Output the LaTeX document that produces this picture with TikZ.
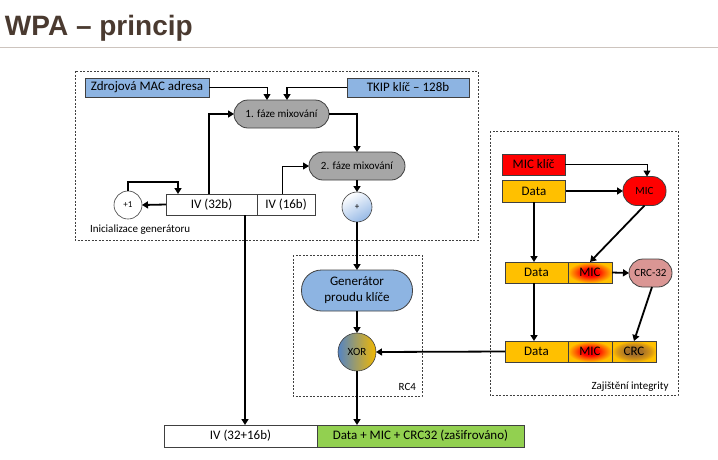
\documentclass[tikz,border=0pt]{standalone}
\usepackage{fontspec}
\setmainfont{Carlito}
\newfontfamily\titlefont{Liberation Sans}
\usetikzlibrary{arrows.meta,calc}
\definecolor{titlecol}{RGB}{74,58,48}
\definecolor{rulecol}{RGB}{205,196,190}
\definecolor{boxblue}{RGB}{141,180,226}
\definecolor{mixgray}{RGB}{166,166,166}
\definecolor{brd}{RGB}{64,64,64}
\definecolor{micred}{RGB}{255,0,0}
\definecolor{micorange}{RGB}{255,110,0}
\definecolor{dyellow}{RGB}{255,192,0}
\definecolor{crcpink}{RGB}{218,150,148}
\definecolor{encgreen}{RGB}{146,208,80}
\definecolor{xorblue}{RGB}{84,132,196}
\definecolor{xoryel}{RGB}{242,184,0}
\definecolor{plusblue}{RGB}{150,185,230}
\definecolor{crcbrown}{RGB}{165,112,40}
\definecolor{crcgold}{RGB}{215,150,20}
\pgfdeclareradialshading{micshade}{\pgfpoint{0bp}{0bp}}{color(0bp)=(micred); color(9bp)=(micred); color(18bp)=(micorange); color(25bp)=(dyellow); color(100bp)=(dyellow)}
\pgfdeclareradialshading{crcshade}{\pgfpoint{0bp}{0bp}}{color(0bp)=(crcbrown); color(9bp)=(crcbrown); color(19bp)=(crcgold); color(25bp)=(dyellow); color(100bp)=(dyellow)}
\begin{document}
\begin{tikzpicture}[x=1pt,y=-1pt,
  every node/.style={inner sep=0pt,outer sep=0pt},
  bigtxt/.style={font=\fontsize{13}{16}\selectfont},
  smtxt/.style={font=\fontsize{11}{13}\selectfont},
  cell/.style={draw=brd,line width=0.8pt,bigtxt},
  pill/.style={draw=brd,line width=0.8pt},
  framebox/.style={draw=brd,dashed,dash pattern=on 2pt off 1.5pt,line width=0.7pt},
  thk/.style={line width=1.8pt,-{Triangle[length=6pt,width=7pt]}},
  thn/.style={line width=1pt,-{Triangle[length=6pt,width=7pt]}}]
\useasboundingbox (0,0) rectangle (718,459);
% title
\node[anchor=base west,font=\titlefont\bfseries\fontsize{28}{32}\selectfont,text=titlecol] (title) at (5,35) {WPA – princip};
\draw[rulecol,line width=0.8pt] (0,47) -- (718,47);
% frames
\draw[framebox] (75,71) rectangle (478,240);
\draw[framebox] (293,255) rectangle (422,396);
\draw[framebox] (490,131) rectangle (678,395);
\node[smtxt,anchor=west] (initlbl) at (90,230) {Inicializace generátoru};
\node[smtxt,anchor=east] (rc4lbl) at (416,387) {RC4};
\node[smtxt] (intlbl) at (630,387) {Zajištění integrity};
% key mixing
\node[cell,fill=boxblue,minimum width=124,minimum height=19] (mac) at (147,87.5) {Zdrojová MAC adresa};
\node[cell,fill=boxblue,minimum width=122,minimum height=19] (tkip) at (408,87.5) {TKIP klíč – 128b};
\node[pill,fill=mixgray,smtxt,minimum width=95,minimum height=28,rounded corners=14pt] (mix1) at (281.5,114) {1. fáze mixování};
\node[pill,fill=mixgray,smtxt,minimum width=96,minimum height=28,rounded corners=14pt] (mix2) at (357,166) {2. fáze mixování};
\node[circle,draw=brd,line width=0.6pt,top color=white,bottom color=plusblue,shading angle=30,minimum size=30,font=\fontsize{9}{10}\selectfont] (plus) at (357,207) {+};
\node[circle,draw=brd,line width=0.6pt,fill=white,minimum size=28,font=\fontsize{9}{10}\selectfont] (plusone) at (128,205) {+1};
\node[cell,fill=white,minimum width=91,minimum height=21] (iv32) at (211.5,204.5) {IV (32b)};
\node[cell,fill=white,minimum width=58,minimum height=21] (iv16) at (286,204.5) {IV (16b)};
% RC4
\node[pill,fill=boxblue,bigtxt,minimum width=111,minimum height=41,rounded corners=20pt,align=center] (gen) at (357,290.5) {Generátor\\proudu klíče};
\node[circle,draw=brd,line width=0.6pt,left color=xorblue,right color=xoryel,minimum size=38,smtxt] (xor) at (357,352) {XOR};
% integrity
\node[cell,fill=micred,minimum width=63,minimum height=21] (mickey) at (533.5,164.5) {MIC klíč};
\node[cell,fill=dyellow,minimum width=63,minimum height=22] (data1) at (534,191) {Data};
\node[pill,fill=micred,smtxt,minimum width=43,minimum height=29,rounded corners=14pt] (mic) at (644.5,191) {MIC};
\node[cell,fill=dyellow,minimum width=63,minimum height=21] (data2) at (536.5,272.5) {Data};
\node[cell,shading=micshade,minimum width=44,minimum height=21] (mic2) at (590,272.5) {MIC};
\node[pill,fill=crcpink,smtxt,minimum width=43,minimum height=28,rounded corners=14pt] (crc32) at (650.5,273) {CRC-32};
\node[cell,fill=dyellow,minimum width=63,minimum height=21] (data3) at (536.5,351.5) {Data};
\node[cell,shading=micshade,minimum width=44,minimum height=21] (mic3) at (590,351.5) {MIC};
\node[cell,shading=crcshade,minimum width=44,minimum height=21] (crc3) at (634,351.5) {CRC};
% output
\node[cell,fill=white,minimum width=153,minimum height=22] (ivall) at (240.5,436) {IV (32+16b)};
\node[cell,fill=encgreen,minimum width=207,minimum height=22] (enc) at (420.5,436) {Data + MIC + CRC32 (zašifrováno)};
% connectors
\draw[thn] (mac.east) -| ([xshift=-14.5pt]mix1.north);
\draw[thk] (tkip.west) -| ([xshift=5.5pt]mix1.north);
\draw[thk] ([xshift=-2.5pt]iv32.north) |- (mix1.west);
\draw[thk] (mix1.east) -| (mix2.north);
\draw[thn] ([xshift=-4pt]iv16.north) |- (mix2.west);
\draw[thk] (mix2.south) -- (plus.north);
\draw[thk] (iv32.west) -- (plusone.east);
\draw[thk] (plusone.north) -- ++(0,-9) -| ([xshift=-33.5pt]iv32.north);
\draw[thk] ([xshift=33.5pt]iv32.south) -- ([xshift=4.5pt]ivall.north);
\draw[thk] (plus.south) -- (gen.north);
\draw[thk] (gen.south) -- (xor.north);
\draw[thk] (xor.south) -- ([xshift=-63.5pt]enc.north);
\draw[thk] (data3.west) -- (xor.east);
\draw[thn] (mickey.east) -| ([xshift=2.5pt]mic.north);
\draw[thk] (data1.east) -- (mic.west);
\draw[thk] (mic.south) -- (mic2.north);
\draw[thk] (data1.south) -- (data1.south |- data2.north);
\draw[thk] (mic2.east) -- (crc32.west);
\draw[thk] ([xshift=1.5pt]crc32.south) -- (crc3.north);
\draw[thk] (data1.south |- data2.south) -- (data1.south |- data3.north);
\end{tikzpicture}
\end{document}
